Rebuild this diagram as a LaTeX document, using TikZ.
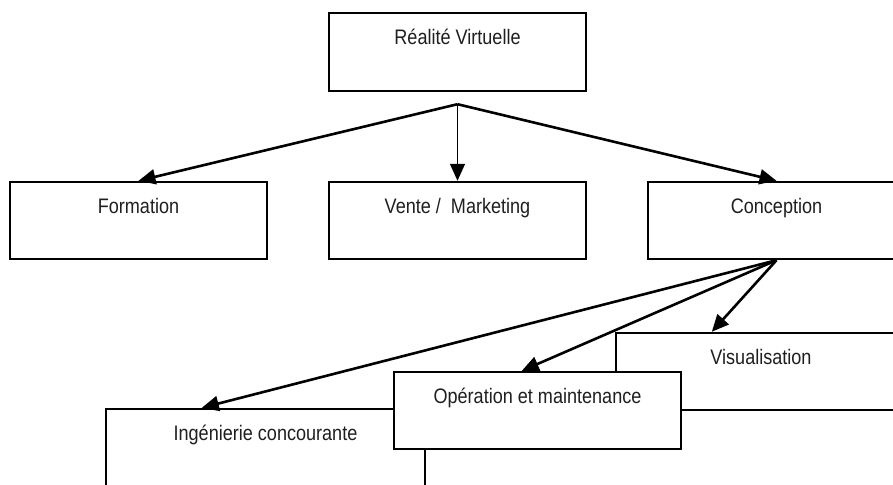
\documentclass[tikz,border=0pt]{standalone}
\usepackage{fontspec}
\setmainfont{Liberation Sans}[FakeStretch=0.86]
\usetikzlibrary{arrows.meta,calc}
\begin{document}
\begin{tikzpicture}[x=1pt,y=-1pt,
  box/.style={draw, line width=2.4pt, fill=white, rectangle, inner sep=0pt, minimum height=77pt},
  lbl/.style={anchor=base, font=\fontsize{21}{25}\selectfont, text=black!88, inner sep=0pt},
  arr/.style={line width=2.6pt, -{Triangle[length=17pt,width=15pt]}},
]
\useasboundingbox (0,0) rectangle (893,484);
\clip (0,0) rectangle (893,484);
% top level
\node[box, minimum width=257pt, minimum height=78pt] (rv) at (457.5,52) {};
\node[lbl] (rvt) at ($(rv.north)+(0,32.5)$) {Réalité Virtuelle};
\coordinate (apex) at ($(rv.south)+(0,12)$);
% second level
\node[box, minimum width=257pt] (form) at (138.5,220.5) {};
\node[lbl] (formt) at ($(form.north)+(0,32.5)$) {Formation};
\node[box, minimum width=257pt] (vente) at (457.5,220.5) {};
\node[lbl] (ventet) at ($(vente.north)+(0,32.5)$) {Vente /\ \ Marketing};
\node[box, minimum width=257pt] (conc) at (776.5,220.5) {};
\node[lbl] (conct) at ($(conc.north)+(0,32.5)$) {Conception};
% third level
\node[box, minimum width=319pt] (ing) at (265.5,447.5) {};
\node[lbl] (ingt) at ($(ing.north)+(0,32.5)$) {Ingénierie concourante};
\node[box, minimum width=290pt] (visu) at (761,371.5) {};
\node[lbl] (visut) at ($(visu.north)+(0,32.5)$) {Visualisation};
\node[box, minimum width=287pt] (oper) at (537.5,410.5) {};
\node[lbl] (opert) at ($(oper.north)+(0,32.5)$) {Opération et maintenance};
% arrow targets
\coordinate (ingin) at ($(ing.north west)+(97,0)$);
\coordinate (operin) at ($(oper.north west)+(129,0)$);
\coordinate (visuin) at ($(visu.north west)+(97,0)$);
% connectors
\draw[arr] (apex) -- (form.north);
\draw[arr, line width=1.4pt] (apex) -- (vente.north);
\draw[arr] (apex) -- (conc.north);
\draw[arr] (conc.south) -- (ingin);
\draw[arr] (conc.south) -- (operin);
\draw[arr] (conc.south) -- (visuin);
\end{tikzpicture}
\end{document}
